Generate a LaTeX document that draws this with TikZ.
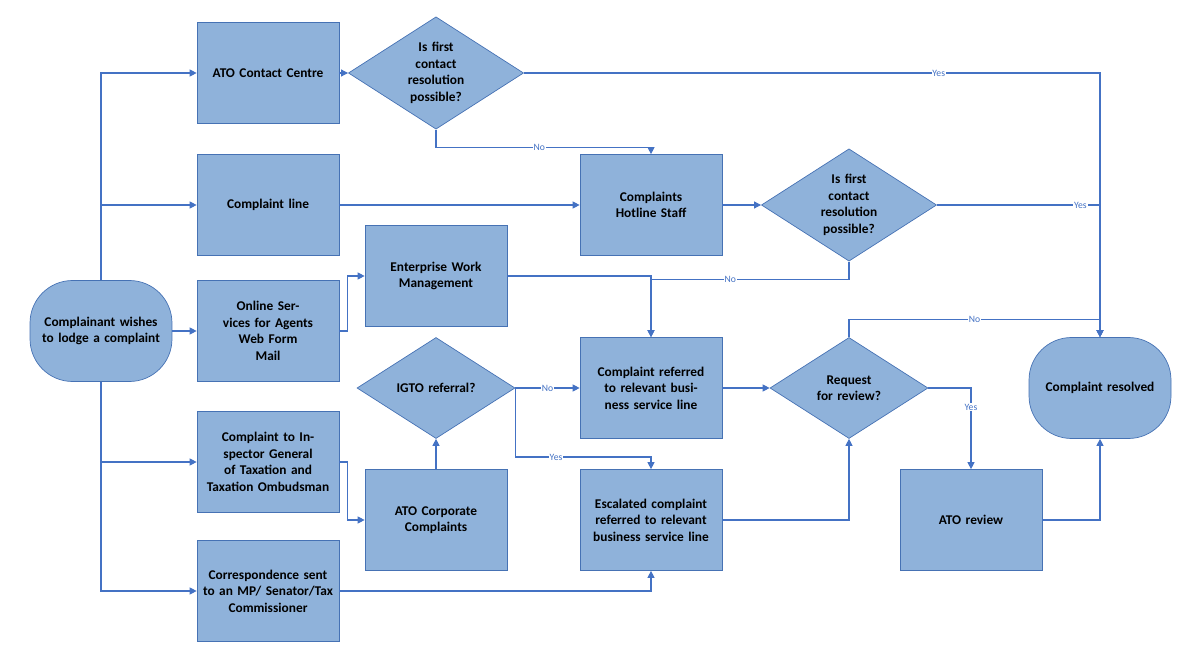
\documentclass[tikz,border=0pt]{standalone}
\usepackage{fontspec}
\setmainfont{Carlito}
\usetikzlibrary{shapes.geometric,arrows.meta}
\definecolor{boxfill}{RGB}{143,178,218}
\definecolor{boxline}{RGB}{70,114,180}
\definecolor{flow}{RGB}{68,114,196}
\tikzset{%
    proc/.style={draw=boxline,fill=boxfill,minimum width=2.84cm,minimum height=2.02cm,
        text width=2.6cm,align=center,inner sep=0pt,font=\fontsize{7.6}{9.4}\selectfont\bfseries},
    term/.style={proc,rounded corners=0.85cm},
    choice/.style={proc,diamond,aspect=1.56,minimum width=3.16cm,minimum height=2.02cm,text width=1.6cm},
    flow/.style={draw=flow,-{Triangle[length=4pt,width=4pt]},line width=0.6pt},
    lbl/.style={fill=white,inner sep=0.5pt,text=flow,font=\fontsize{5.5}{6}\selectfont}
}
\begin{document}
\begin{tikzpicture}[x=0.02cm,y=-0.02cm]
\useasboundingbox (0,0) rectangle (1200,665);

\node[term]   (who)  at (101,331) {Complainant wishes to lodge a complaint};
\node[proc]   (acc)  at (268,73)  {ATO Contact Centre};
\node[choice] (fcr)  at (436,73)  {Is first contact resolution possible?};
\node[proc]   (line) at (268,205) {Complaint line};
\node[proc]   (hot)  at (651,205) {Complaints Hotline Staff};
\node[choice] (fcrb) at (849,205) {Is first contact resolution possible?};
\node[proc]   (web)  at (268,331) {Online Services for Agents\\Web Form\\Mail};
\node[proc]   (ewm)  at (436,276) {Enterprise Work Management};
\node[choice] (igto) at (436,388) {IGTO referral?};
\node[proc]   (ref)  at (651,388) {Complaint referred to relevant business service line};
\node[choice] (rfr)  at (849,388) {Request for review?};
\node[term]   (done) at (1100,388) {Complaint resolved};
\node[proc]   (ig)   at (268,462) {Complaint to Inspector General of Taxation and Taxation Ombudsman};
\node[proc]   (corp) at (436,520) {ATO Corporate Complaints};
\node[proc]   (esc)  at (651,520) {Escalated complaint referred to relevant business service line};
\node[proc]   (rev)  at (971,520) {ATO review};
\node[proc]   (mp)   at (268,591) {Correspondence sent to an MP/ Senator/Tax Commissioner};

\draw[flow] (who.north) |- (acc.west);
\draw[flow] (who.north) |- (line.west);
\draw[flow] (who.east) -- (web.west);
\draw[flow] (who.south) |- (ig.west);
\draw[flow] (who.south) |- (mp.west);

\draw[flow] (acc.east) -- (fcr.west);
\draw[flow] (fcr.east) -| (done.north) node[lbl,pos=0.36] {Yes};
\draw[flow] (fcr.south) -- ++(0,18) -| (hot.north) node[lbl,pos=0.24] {No};
\draw[flow] (line.east) -- (hot.west);
\draw[flow] (hot.east) -- (fcrb.west);
\draw[flow] (fcrb.east) -| (done.north) node[lbl,pos=0.44] {Yes};
\draw[flow] (fcrb.south) -- ++(0,18) -| (ref.north) node[lbl,pos=0.3] {No};
\draw[flow] (web.east) -- ++(8,0) |- (ewm.west);
\draw[flow] (ewm.east) -| (ref.north);
\draw[flow] (igto.east) -- (ref.west) node[lbl,midway] {No};
\draw[flow] (igto.east) -- ++(0,69) -| (esc.north) node[lbl,pos=0.15] {Yes};
\draw[flow] (ig.east) -- ++(8,0) |- (corp.west);
\draw[flow] (corp.north) -- (igto.south);
\draw[flow] (mp.east) -| (esc.south);
\draw[flow] (ref.east) -- (rfr.west);
\draw[flow] (esc.east) -| (rfr.south);
\draw[flow] (rfr.east) -| (rev.north) node[lbl,pos=0.62] {Yes};
\draw[flow] (rfr.north) -- ++(0,-18) -| (done.north) node[lbl,pos=0.25] {No};
\draw[flow] (rev.east) -| (done.south);
\end{tikzpicture}
\end{document}
